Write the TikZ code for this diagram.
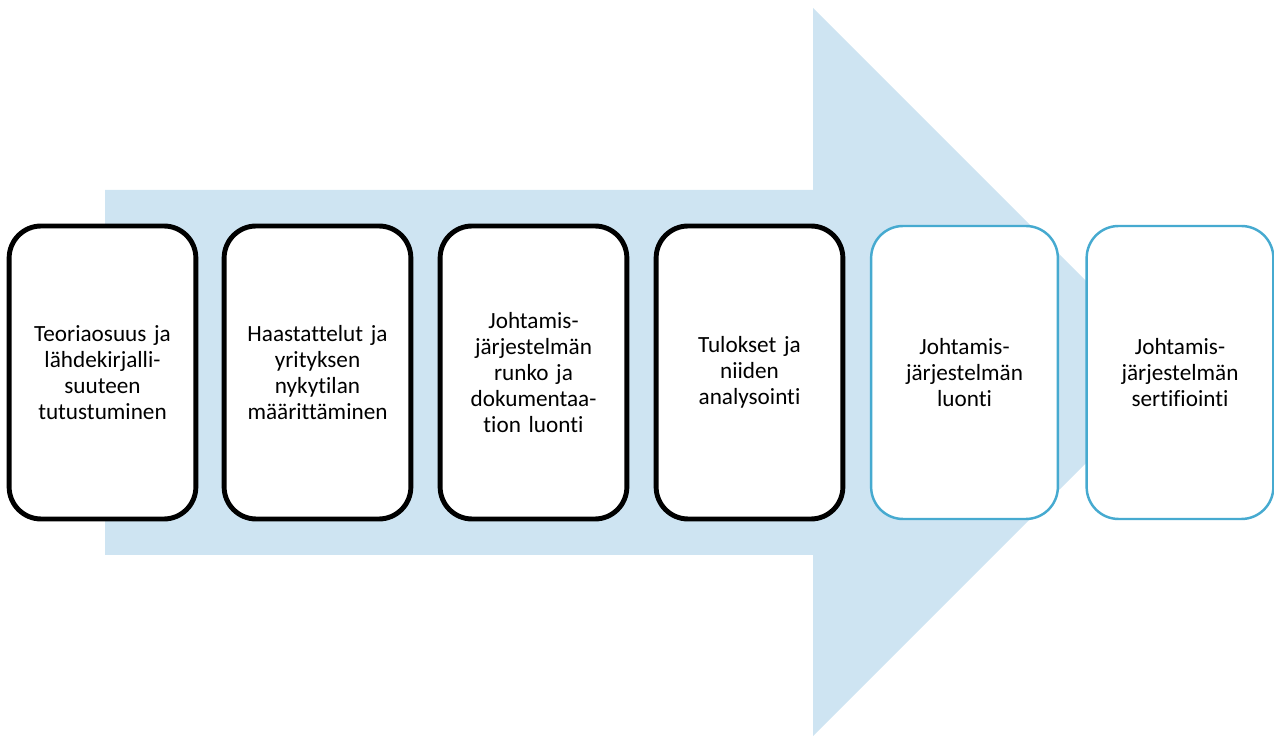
\documentclass[tikz,border=0pt]{standalone}
\usepackage{fontspec}
\setmainfont{Carlito}[RawFeature={-liga;-clig;-calt}]
\definecolor{arrowfill}{RGB}{206,228,242}
\definecolor{stepblue}{RGB}{70,170,208}
\tikzset{
  phase/.style={draw=black,line width=2.8pt,fill=white,rounded corners=0.64cm,
    minimum width=3.7cm,minimum height=5.86cm,text width=3.5cm,align=center,
    font=\fontsize{13.2}{14.8}\selectfont},
  nextphase/.style={phase,draw=stepblue,line width=1.4pt}
}
\begin{document}
\begin{tikzpicture}
  \useasboundingbox (0,0) rectangle (25.48,14.72);

  % big arrow in the background
  \fill[arrowfill] (2.1,3.62) -- (2.1,10.92) -- (16.26,10.92) -- (16.26,14.56)
    -- (23.54,7.28) -- (16.26,0) -- (16.26,3.62) -- cycle;

  \node[phase] (teoria) at (2.05,7.27) {Teoriaosuus ja\\ lähdekirjalli-\\ suuteen\\ tutustuminen};
  \node[phase] (haastattelut) at (6.35,7.27) {Haastattelut ja\\ yrityksen\\ nykytilan\\ määrittäminen};
  \node[phase] (runko) at (10.67,7.27) {Johtamis-\\ järjestelmän\\ runko ja\\ dokumentaa-\\ tion luonti};
  \node[phase] (tulokset) at (14.99,7.27) {Tulokset ja\\ niiden\\ analysointi};
  \node[nextphase] (luonti) at (19.29,7.27) {Johtamis-\\ järjestelmän\\ luonti};
  \node[nextphase] (sertifiointi) at (23.6,7.27) {Johtamis-\\ järjestelmän\\ sertifiointi};
\end{tikzpicture}
\end{document}
